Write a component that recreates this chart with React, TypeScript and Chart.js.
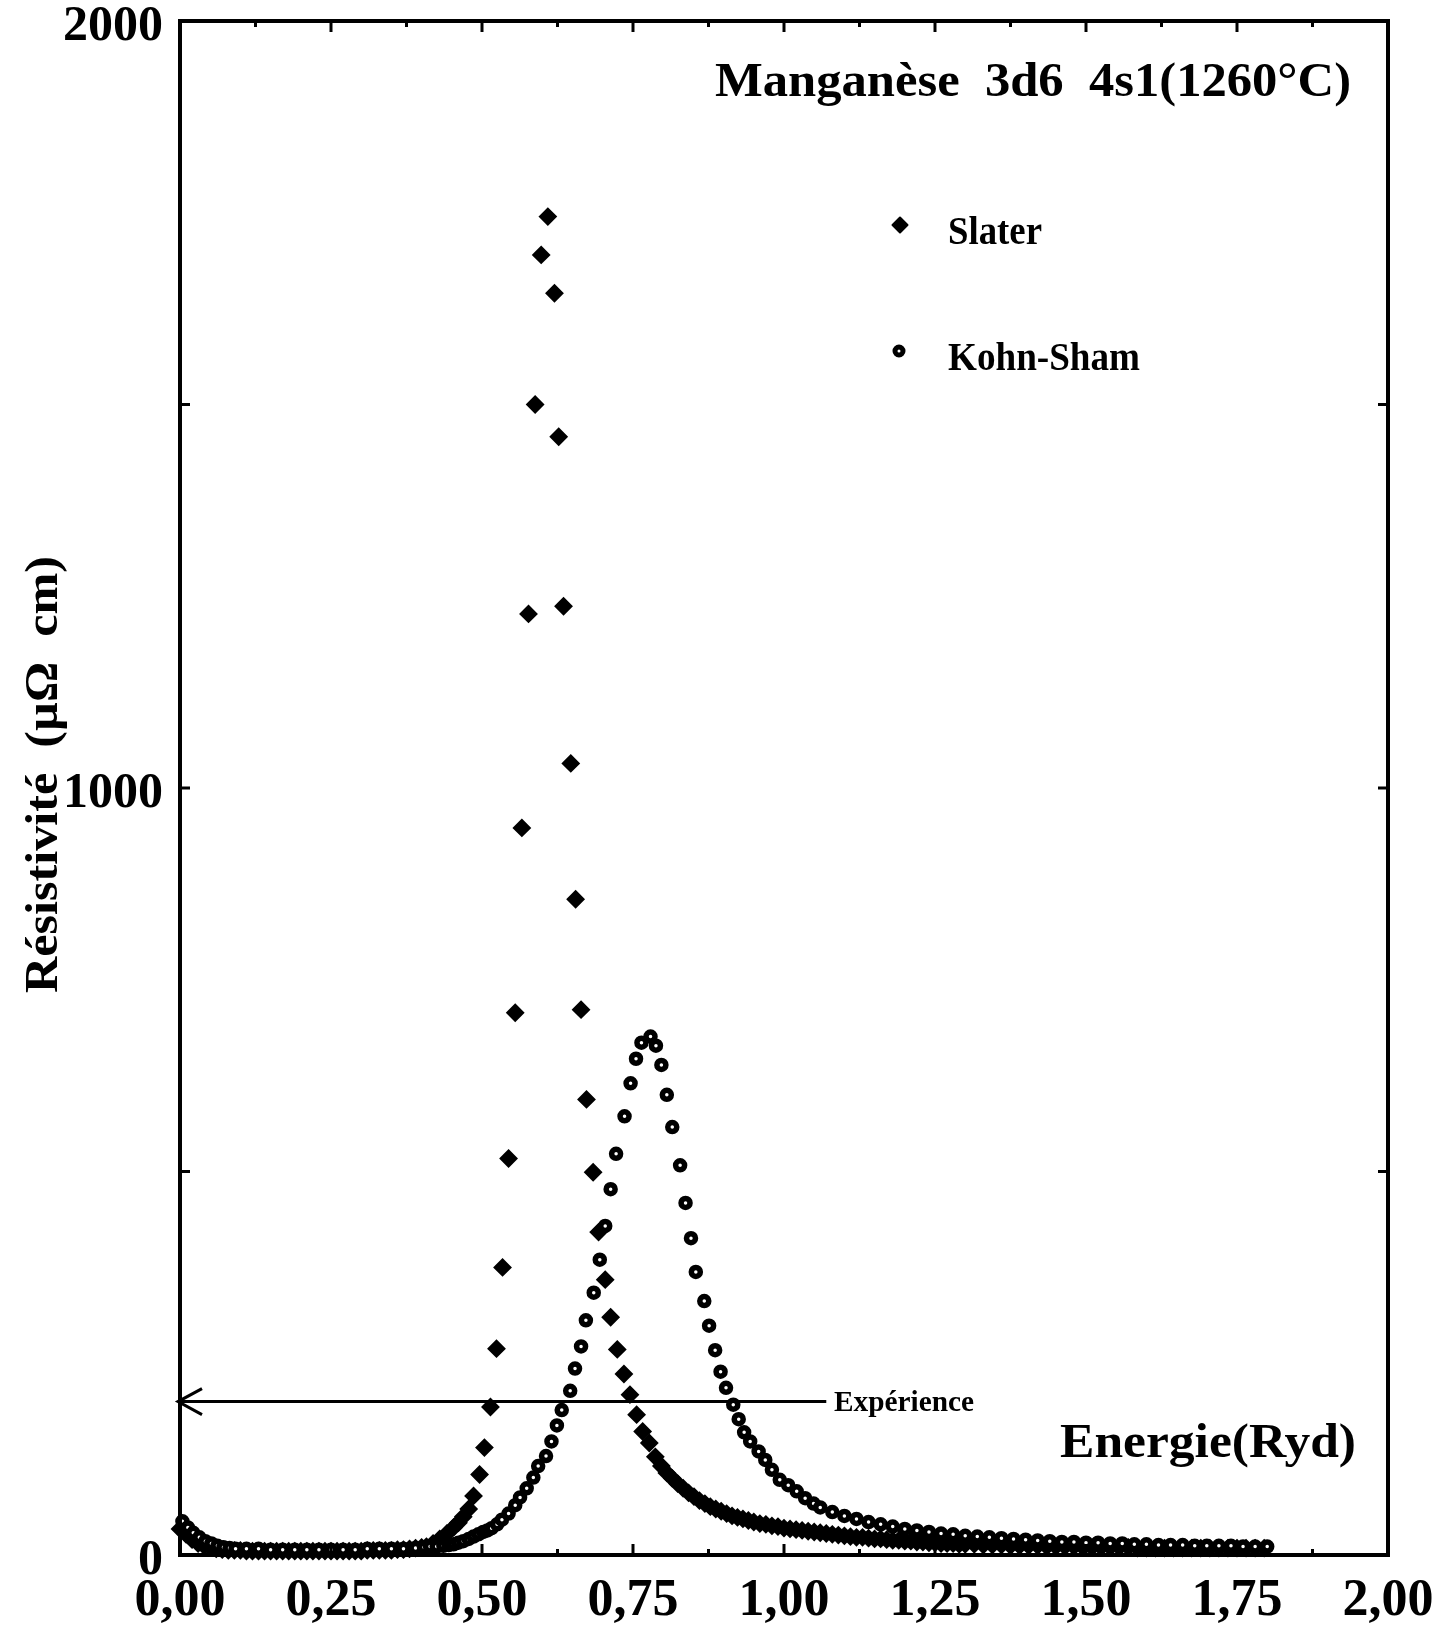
import React, { useEffect, useRef } from 'react';
import { Chart, registerables } from 'chart.js';

Chart.register(...registerables);

// ---------- data ----------
const SLATER_ENERGY = [
  0.000, 0.010, 0.020, 0.030, 0.040, 0.050, 0.060, 0.070, 0.080, 0.090,
  0.10, 0.11, 0.12, 0.13, 0.14, 0.15, 0.16, 0.17, 0.18, 0.19,
  0.20, 0.21, 0.22, 0.23, 0.24, 0.25, 0.26, 0.27, 0.28, 0.29,
  0.30, 0.31, 0.32, 0.33, 0.34, 0.35, 0.36, 0.37, 0.38, 0.39, 0.40,
  0.408, 0.419, 0.430, 0.442, 0.453, 0.461, 0.469, 0.478, 0.486, 0.496,
  0.504, 0.514, 0.524, 0.534, 0.544, 0.555, 0.566, 0.577, 0.588, 0.598,
  0.609, 0.620, 0.627, 0.635, 0.647, 0.655, 0.664, 0.673, 0.684, 0.693,
  0.704, 0.713, 0.724, 0.735, 0.745, 0.756, 0.766, 0.777, 0.787, 0.797,
  0.806, 0.815, 0.824, 0.833, 0.842, 0.851, 0.860, 0.869, 0.878, 0.887,
  0.896, 0.905, 0.914, 0.923, 0.932, 0.941, 0.950, 0.960, 0.970, 0.980,
  0.990, 1.000, 1.010, 1.020, 1.030, 1.040, 1.050, 1.060, 1.070, 1.080,
  1.090, 1.100, 1.110, 1.120, 1.130, 1.140, 1.150, 1.160, 1.170, 1.180,
  1.190, 1.200, 1.210, 1.220, 1.230, 1.240, 1.250, 1.260, 1.270, 1.280,
  1.290, 1.300, 1.315, 1.330, 1.345, 1.360, 1.375, 1.390, 1.405, 1.420,
  1.435, 1.450, 1.465, 1.480, 1.495, 1.510, 1.525, 1.540, 1.555, 1.570,
  1.585, 1.600, 1.615, 1.630, 1.645, 1.660, 1.675, 1.690, 1.705, 1.720,
  1.735, 1.750, 1.765, 1.780, 1.795,
];
const SLATER_RHO = [
  34, 27, 20, 15, 12, 10, 8, 7, 6, 6,
  6, 5, 5, 5, 5, 5, 5, 5, 5, 5,
  5, 5, 5, 5, 5, 5, 5, 5, 5, 5,
  5, 6, 6, 6, 6, 6, 7, 7, 8, 9, 10,
  11, 15, 21, 28, 36, 42, 50, 60, 77, 105,
  140, 193, 269, 375, 517, 707, 948, 1227, 1500, 1695,
  1745, 1645, 1458, 1237, 1032, 855, 711, 594, 499, 421,
  359, 310, 268, 236, 209, 183, 161, 146, 128, 116,
  107, 100, 93, 87, 81, 76, 71, 67, 63, 60,
  57, 54, 51, 49, 47, 45, 43, 41, 40, 38,
  37, 35, 34, 33, 32, 31, 30, 29, 28, 27,
  26, 25, 24, 23, 23, 22, 21, 21, 20, 19,
  19, 18, 18, 17, 17, 16, 16, 15, 15, 15,
  14, 14, 14, 13, 13, 13, 12, 12, 12, 12,
  11, 11, 11, 11, 10, 10, 10, 10, 10, 10,
  9, 9, 9, 9, 9, 9, 9, 9, 9, 9,
  9, 9, 9, 9, 9,
];

const KS_ENERGY = [
  0.004, 0.013, 0.022, 0.032, 0.042, 0.052, 0.062, 0.072, 0.082, 0.092,
  0.11, 0.13, 0.15, 0.17, 0.19, 0.21, 0.23, 0.25, 0.27, 0.29,
  0.31, 0.33, 0.35, 0.37, 0.39,
  0.404, 0.414, 0.425, 0.436, 0.445, 0.453, 0.461, 0.469, 0.478, 0.486,
  0.494, 0.502, 0.509, 0.516, 0.525, 0.533, 0.544, 0.555, 0.563, 0.574,
  0.585, 0.593, 0.606, 0.615, 0.624, 0.632, 0.646, 0.654, 0.664, 0.672,
  0.685, 0.695, 0.704, 0.713, 0.722, 0.736, 0.746, 0.755, 0.764, 0.779,
  0.788, 0.797, 0.806, 0.815, 0.828, 0.837, 0.846, 0.854, 0.868, 0.876,
  0.886, 0.895, 0.904, 0.916, 0.925, 0.934, 0.944, 0.958, 0.969, 0.980,
  0.993, 1.007, 1.021, 1.035, 1.049,
  1.06, 1.08, 1.10, 1.12, 1.14, 1.16, 1.18, 1.20, 1.22, 1.24,
  1.26, 1.28, 1.30, 1.32, 1.34, 1.36, 1.38, 1.40, 1.42, 1.44,
  1.46, 1.48, 1.50, 1.52, 1.54, 1.56, 1.58, 1.60, 1.62, 1.64,
  1.66, 1.68, 1.70, 1.72, 1.74, 1.76, 1.78, 1.80,
];
const KS_RHO = [
  44, 36, 29, 23, 18, 15, 12, 10, 9, 8,
  8, 8, 7, 7, 7, 7, 7, 7, 7, 7,
  8, 8, 8, 8, 9,
  10, 11, 11, 12, 13, 14, 16, 18, 21, 24,
  27, 30, 32, 35, 40, 46, 54, 65, 75, 87,
  101, 116, 129, 148, 169, 189, 214, 243, 272, 306,
  342, 385, 429, 477, 523, 572, 615, 647, 668, 676,
  664, 639, 600, 558, 508, 459, 413, 369, 331, 299,
  267, 239, 218, 196, 177, 160, 148, 135, 124, 111,
  98, 91, 83, 74, 67,
  62, 56, 51, 47, 43, 40, 37, 34, 32, 30,
  28, 27, 25, 24, 23, 22, 21, 20, 19, 18,
  17, 17, 16, 16, 15, 15, 14, 14, 13, 13,
  13, 12, 12, 12, 12, 11, 11, 11,
];

const SERIES_NAMES = ['Slater', 'Kohn-Sham'];
const X_TICK_VALUES = [0, 0.25, 0.5, 0.75, 1.0, 1.25, 1.5, 1.75, 2.0];
const X_TICK_LABELS = ['0,00', '0,25', '0,50', '0,75', '1,00', '1,25', '1,50', '1,75', '2,00'];
const X_MINOR_TICKS = [0.125, 0.375, 0.625, 0.875, 1.125, 1.375, 1.625, 1.875];
const Y_TICK_VALUES = [0, 1000, 2000];
const Y_TICK_LABELS = ['0', '1000', '2000'];
const Y_INNER_TICKS = [500, 1000, 1500];
const EXPERIENCE_RHO = 200;
const EXPERIENCE_END = 1.07;

const TITLE = 'Manganèse  3d6  4s1(1260°C)';
const X_TITLE = 'Energie(Ryd)';
const Y_TITLE = 'Résistivité  (µΩ  cm)';
const EXP_LABEL = 'Expérience';

// ---------- rendering ----------
const W = 1453;
const H = 1630;
const FAMILY = "'Liberation Serif', 'Times New Roman', serif";

function fitText(ctx: CanvasRenderingContext2D, text: string, x: number, y: number, width: number, size: number) {
  ctx.save();
  ctx.font = `bold ${size}px ${FAMILY}`;
  ctx.textAlign = 'left';
  ctx.textBaseline = 'alphabetic';
  const w = ctx.measureText(text).width;
  ctx.translate(x, y);
  ctx.scale(width / w, 1);
  ctx.fillStyle = '#000';
  ctx.fillText(text, 0, 0);
  ctx.restore();
}

const decor = {
  id: 'decor',
  afterDraw(chart: any) {
    const { ctx, chartArea: a, scales } = chart;
    const xs = scales.x;
    const ys = scales.y;
    ctx.save();
    ctx.strokeStyle = '#000';
    ctx.lineCap = 'butt';

    const line = (x1: number, y1: number, x2: number, y2: number) => {
      ctx.beginPath();
      ctx.moveTo(x1, y1);
      ctx.lineTo(x2, y2);
      ctx.stroke();
    };

    // inward ticks
    ctx.lineWidth = 3;
    X_TICK_VALUES.forEach((v) => {
      const px = xs.getPixelForValue(v);
      line(px, a.bottom, px, a.bottom - 11);
      line(px, a.top, px, a.top + 11);
    });
    X_MINOR_TICKS.forEach((v) => {
      const px = xs.getPixelForValue(v);
      line(px, a.bottom, px, a.bottom - 6);
      line(px, a.top, px, a.top + 6);
    });
    Y_INNER_TICKS.forEach((v) => {
      const py = ys.getPixelForValue(v);
      line(a.left, py, a.left + 10, py);
      line(a.right, py, a.right - 10, py);
    });

    // frame
    ctx.lineWidth = 4;
    ctx.strokeRect(a.left, a.top, a.right - a.left, a.bottom - a.top);

    // experience arrow
    const ey = ys.getPixelForValue(EXPERIENCE_RHO);
    const x0 = xs.getPixelForValue(0) - 2;
    const x1 = xs.getPixelForValue(EXPERIENCE_END);
    ctx.lineWidth = 3;
    line(x0, ey, x1, ey);
    ctx.beginPath();
    ctx.moveTo(x0 + 24, ey - 13);
    ctx.lineTo(x0, ey);
    ctx.lineTo(x0 + 24, ey + 13);
    ctx.stroke();
    fitText(ctx, EXP_LABEL, 834, ey + 9, 140, 29);

    // titles
    fitText(ctx, TITLE, 715, 96, 636, 48);
    fitText(ctx, X_TITLE, 1060, 1457, 296, 48);
    ctx.save();
    ctx.translate(57, 993);
    ctx.rotate(-Math.PI / 2);
    fitText(ctx, Y_TITLE, 0, 0, 437, 46);
    ctx.restore();

    // legend: Slater (filled diamond)
    const sx = 900, sy = 225, r = 7.5;
    ctx.fillStyle = '#000';
    ctx.lineJoin = 'round';
    ctx.lineWidth = 2;
    ctx.beginPath();
    ctx.moveTo(sx, sy - r);
    ctx.lineTo(sx + r, sy);
    ctx.lineTo(sx, sy + r);
    ctx.lineTo(sx - r, sy);
    ctx.closePath();
    ctx.fill();
    ctx.stroke();
    fitText(ctx, SERIES_NAMES[0], 948, 244, 94, 40);
    // legend: Kohn-Sham (hollow)
    ctx.beginPath();
    ctx.arc(899, 351, 4, 0, Math.PI * 2);
    ctx.fillStyle = '#fff';
    ctx.fill();
    ctx.lineWidth = 5;
    ctx.strokeStyle = '#000';
    ctx.stroke();
    fitText(ctx, SERIES_NAMES[1], 948, 370, 192, 40);

    ctx.restore();
  },
};

export default function App() {
  const ref = useRef<HTMLCanvasElement | null>(null);

  useEffect(() => {
    const canvas = ref.current;
    if (!canvas) return;
    const ksPoints = KS_ENERGY.map((e, i) => ({ x: e, y: KS_RHO[i] }));
    const slPoints = SLATER_ENERGY.map((e, i) => ({ x: e, y: SLATER_RHO[i] }));

    const chart = new Chart(canvas, {
      type: 'scatter',
      data: {
        datasets: [
          {
            label: SERIES_NAMES[1],
            data: ksPoints,
            order: 0,
            pointStyle: 'circle',
            pointRadius: 4.5,
            pointBorderWidth: 5.5,
            pointBackgroundColor: '#fff',
            pointBorderColor: '#000',
            showLine: false,
            clip: false,
          } as any,
          {
            label: SERIES_NAMES[0],
            data: slPoints,
            order: 1,
            pointStyle: 'rectRot',
            pointRadius: 8,
            pointBorderWidth: 2,
            pointBackgroundColor: '#000',
            pointBorderColor: '#000',
            showLine: false,
            clip: false,
          } as any,
        ],
      },
      options: {
        animation: false,
        responsive: false,
        devicePixelRatio: 1,
        events: [],
        layout: { padding: { top: 21, right: 65, left: 0, bottom: 0 } },
        plugins: {
          legend: { display: false },
          tooltip: { enabled: false },
          title: { display: false },
        },
        scales: {
          x: {
            type: 'linear',
            position: 'bottom',
            min: 0,
            max: 2,
            grid: { display: false, drawTicks: false },
            border: { display: false },
            ticks: {
              stepSize: 0.25,
              autoSkip: false,
              maxRotation: 0,
              minRotation: 0,
              padding: 15,
              color: '#000',
              font: { family: FAMILY, size: 52, weight: 'bold' },
              callback: (v: any) => {
                const i = X_TICK_VALUES.findIndex((t) => Math.abs(t - Number(v)) < 1e-6);
                return i >= 0 ? X_TICK_LABELS[i] : '';
              },
            },
            afterFit: (s: any) => {
              s.height = 75;
              s.paddingLeft = 0;
              s.paddingRight = 0;
            },
          },
          y: {
            type: 'linear',
            min: 0,
            max: 2000,
            grid: { display: false, drawTicks: false },
            border: { display: false },
            ticks: {
              stepSize: 1000,
              padding: 17,
              labelOffset: 6,
              color: '#000',
              font: { family: FAMILY, size: 50, weight: 'bold' },
              callback: (v: any) => {
                const i = Y_TICK_VALUES.indexOf(Number(v));
                return i >= 0 ? Y_TICK_LABELS[i] : '';
              },
            },
            afterFit: (s: any) => {
              s.width = 180;
              s.paddingTop = 0;
              s.paddingBottom = 0;
            },
          },
        },
      } as any,
      plugins: [decor],
    });
    return () => chart.destroy();
  }, []);

  return (
    <div style={{ position: 'absolute', left: 0, top: 0, width: W, height: H, background: '#fff' }}>
      <canvas ref={ref} width={W} height={H} style={{ display: 'block', width: W, height: H }} />
    </div>
  );
}
